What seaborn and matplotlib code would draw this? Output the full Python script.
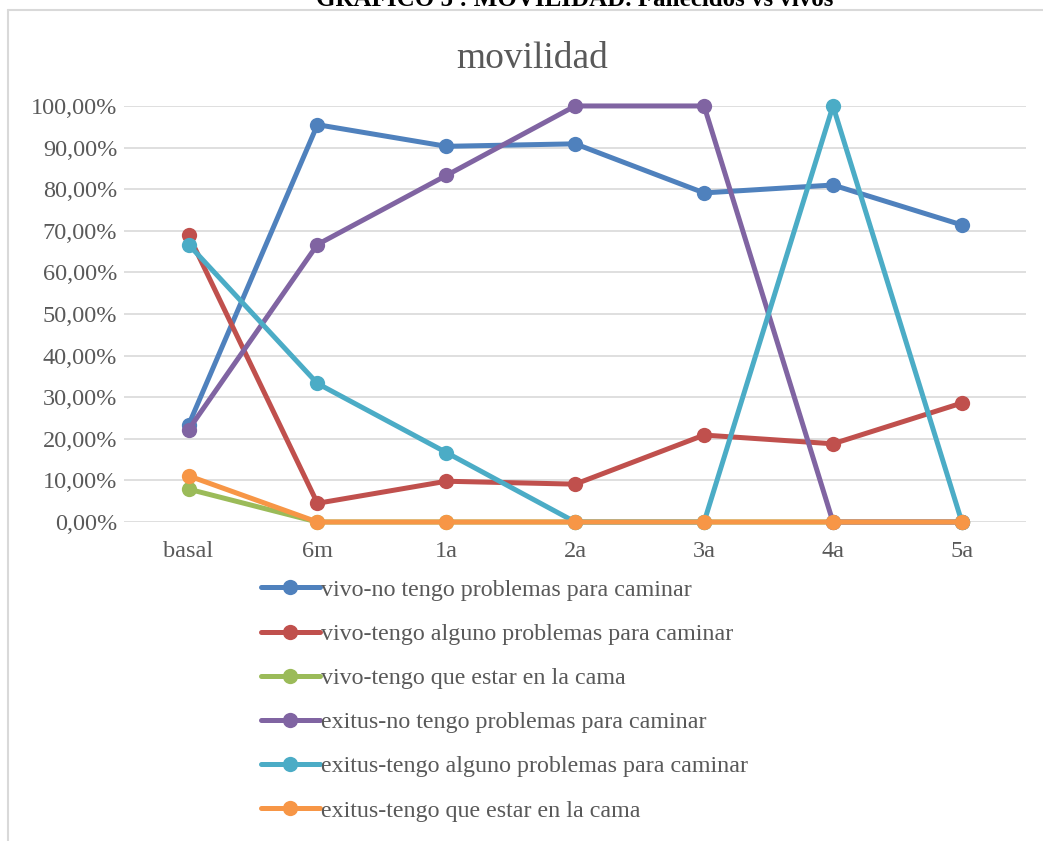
import numpy as np
import pandas as pd
import seaborn as sns
import matplotlib
matplotlib.use("Agg")
import matplotlib.pyplot as plt
from matplotlib.lines import Line2D

# Time points and series values (percentages)
periodos = ["basal", "6m", "1a", "2a", "3a", "4a", "5a"]

vivo_no_problemas = [23.3, 95.5, 90.3, 90.9, 79.1, 81.0, 71.4]
vivo_algun_problema = [69.0, 4.5, 9.8, 9.1, 20.9, 18.8, 28.6]
vivo_cama = [7.9, 0.0, 0.0, 0.0, 0.0, 0.0, 0.0]
exitus_no_problemas = [22.2, 66.7, 83.3, 100.0, 100.0, 0.0, 0.0]
exitus_algun_problema = [66.7, 33.3, 16.7, 0.0, 0.0, 100.0, 0.0]
exitus_cama = [11.1, 0.0, 0.0, 0.0, 0.0, 0.0, 0.0]

series_nombres = [
    "vivo-no tengo problemas para caminar",
    "vivo-tengo alguno problemas para caminar",
    "vivo-tengo que estar en la cama",
    "exitus-no tengo problemas para caminar",
    "exitus-tengo alguno problemas para caminar",
    "exitus-tengo que estar en la cama",
]
series_valores = [
    vivo_no_problemas,
    vivo_algun_problema,
    vivo_cama,
    exitus_no_problemas,
    exitus_algun_problema,
    exitus_cama,
]
colores = ["#4F81BD", "#C0504D", "#9BBB59", "#8064A2", "#4BACC6", "#F79646"]

filas = []
for nombre, valores in zip(series_nombres, series_valores):
    for i, v in enumerate(valores):
        filas.append({"periodo": i, "serie": nombre, "valor": v})
df = pd.DataFrame(filas)

sns.set_theme(style="white")
plt.rcParams["font.family"] = ["Liberation Serif", "DejaVu Serif"]

fig = plt.figure(figsize=(10.43, 8.41), dpi=100)
ax = fig.add_axes([0.119, 0.3793, 0.865, 0.4947])

LW = 3.6
MS = 11
sns.lineplot(
    data=df, x="periodo", y="valor", hue="serie", hue_order=series_nombres,
    palette=colores, marker="o", markersize=MS, linewidth=LW,
    markeredgewidth=0, sort=False, ax=ax, legend=False,
)
for ln in ax.lines:
    ln.set_clip_on(False)
    ln.set_solid_capstyle("round")

ax.set_xlim(-0.5, len(periodos) - 0.5)
ax.set_ylim(0, 100)
ax.set_xticks(range(len(periodos)))
ax.set_xticklabels(periodos)
yt = np.arange(0, 101, 10)
ax.set_yticks(yt)
ax.set_yticklabels([f"{v:.2f}".replace(".", ",") + "%" for v in yt])
ax.set_xlabel("")
ax.set_ylabel("")
ax.tick_params(axis="both", labelsize=17.5, colors="#595959", length=0)
ax.tick_params(axis="y", pad=5)
ax.tick_params(axis="x", pad=14)
ax.grid(axis="y", color="#D9D9D9", linewidth=1.2)
ax.set_axisbelow(True)
for s in ax.spines.values():
    s.set_visible(False)

fig.text(0.51, 0.93, "movilidad", ha="center", va="center",
         fontsize=27, color="#595959")
fig.text(0.551, 1.0, "GRÁFICO 5 : MOVILIDAD. Fallecidos vs vivos", ha="center",
         va="center", fontsize=18, fontweight="bold", color="black")

# Chart frame edges
fig.add_artist(Line2D([0.008, 0.008], [0.0, 0.988], color="#D9D9D9", lw=1.5,
                      transform=fig.transFigure))
fig.add_artist(Line2D([0.008, 1.0], [0.988, 0.988], color="#D9D9D9", lw=1.5,
                      transform=fig.transFigure))

handles = [Line2D([0], [0], color=c, lw=LW, marker="o", markersize=MS,
                  markeredgewidth=0) for c in colores]
leg = fig.legend(handles, series_nombres, loc="upper left",
                 bbox_to_anchor=(0.241, 0.323), frameon=False,
                 fontsize=17.3, handlelength=2.45, handletextpad=0.05,
                 labelspacing=0.93, borderaxespad=0)
for t in leg.get_texts():
    t.set_color("#595959")

fig.savefig("out.png", dpi=100, facecolor="white")
